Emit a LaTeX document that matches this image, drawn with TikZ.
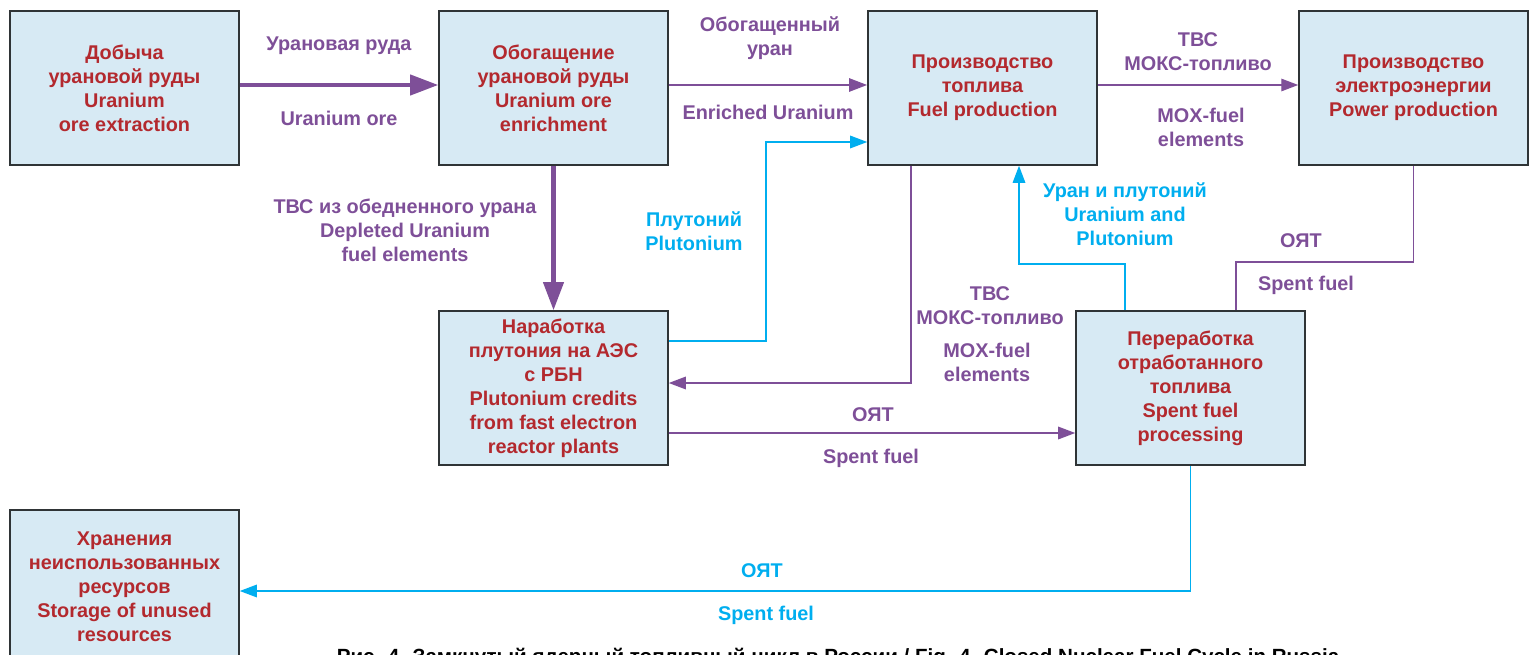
\documentclass[tikz,border=0pt]{standalone}
\usepackage{fontspec}
\setmainfont{Liberation Sans}
\usepackage{tikz}
\usetikzlibrary{arrows.meta, positioning, calc}
\usepackage{xcolor}
\definecolor{cBox}{HTML}{D7EAF4}
\definecolor{cBorder}{HTML}{2F3436}
\definecolor{cText}{HTML}{B3292E}
\definecolor{cPurple}{HTML}{7E4F98}
\definecolor{cCyan}{HTML}{00AEEF}

\begin{document}
\begin{tikzpicture}[
  x=0.02cm, y=-0.02cm,
  stage/.style={draw=cBorder, fill=cBox, line width=0.9pt,
    minimum width=4.58cm, minimum height=3.08cm, inner sep=2pt,
    align=center, text=cText,
    font=\fontsize{11.3}{13.7}\selectfont\bfseries},
  lab/.style={align=center, text=#1, inner sep=0pt,
    font=\fontsize{11.3}{13.7}\selectfont\bfseries},
  heavy/.style={draw=cPurple, line width=2.3pt,
    -{Triangle[length=0.56cm, width=0.4cm]}},
  medium/.style={draw=cPurple, line width=1.4pt,
    -{Triangle[length=0.36cm, width=0.26cm]}},
  flow/.style={draw=#1, line width=0.85pt,
    -{Triangle[length=0.34cm, width=0.25cm]}},
  plain/.style={draw=#1, line width=0.85pt}
]
  \useasboundingbox (0,0) rectangle (1538,655);

  % stages of the cycle
  \node[stage] (ext)   at (124.5,88)  {Добыча\\урановой руды\\Uranium\\ore extraction};
  \node[stage] (enr)   at (553.5,88)  {Обогащение\\урановой руды\\Uranium ore\\enrichment};
  \node[stage] (fuel)  at (982.5,88)  {Производство\\топлива\\Fuel production};
  \node[stage] (pow)   at (1413.5,88) {Производство\\электроэнергии\\Power production};
  \node[stage] (pu)    at (553.5,388) {Наработка\\плутония на АЭС\\с РБН\\Plutonium credits\\from fast electron\\reactor plants};
  \node[stage] (proc)  at (1190.5,388) {Переработка\\отработанного\\топлива\\Spent fuel\\processing};
  \node[stage] (store) at (124.5,587) {Хранения\\неиспользованных\\ресурсов\\Storage of unused\\resources};

  % flows
  \draw[heavy] ($(ext.east)+(0,-3)$) -- ($(enr.west)+(0,-3)$);
  \draw[medium] ($(enr.east)+(0,-3)$) -- ($(fuel.west)+(0,-3)$);
  \draw[flow=cPurple] ($(fuel.east)+(0,-3)$) -- ($(pow.west)+(0,-3)$);
  \draw[heavy] (enr.south) -- (pu.north);
  \draw[flow=cCyan] ($(pu.east)+(0,-47)$) -| ($(fuel.west)+(-101,54)$) -- ($(fuel.west)+(0,54)$);
  \draw[flow=cPurple] ($(fuel.south)+(-71.5,0)$) |- ($(pu.east)+(0,-5)$);
  \draw[flow=cCyan] ($(proc.north)+(-65.5,0)$) |- ($(fuel.south)+(36.5,98)$) -- ($(fuel.south)+(36.5,0)$);
  \draw[plain=cPurple] (pow.south) |- ($(proc.north)+(45.5,-48)$) -- ($(proc.north)+(45.5,0)$);
  \draw[flow=cPurple] ($(pu.east)+(0,45)$) -- ($(proc.west)+(0,45)$);
  \draw[flow=cCyan] (proc.south) |- ($(store.east)+(0,4)$);

  % labels
  \node[lab=cPurple] (l1a) at (339,46)  {Урановая руда};
  \node[lab=cPurple] (l1b) at (339,118) {Uranium ore};
  \node[lab=cPurple] (l2a) at (770,38)  {Обогащенный\\уран};
  \node[lab=cPurple] (l2b) at (768,112) {Enriched Uranium};
  \node[lab=cPurple] (l3a) at (1198,52) {ТВС\\МОКС-топливо};
  \node[lab=cPurple] (l3b) at (1201,127) {MOX-fuel\\elements};
  \node[lab=cPurple] (l4)  at (405,230) {ТВС из обедненного урана\\Depleted Uranium\\fuel elements};
  \node[lab=cCyan]   (l5)  at (694,231) {Плутоний\\Plutonium};
  \node[lab=cCyan]   (l6)  at (1125,214) {Уран и плутоний\\Uranium and\\Plutonium};
  \node[lab=cPurple] (l7a) at (1301,241) {ОЯТ};
  \node[lab=cPurple] (l7b) at (1306,285) {Spent fuel};
  \node[lab=cPurple] (l8a) at (990,306) {ТВС\\МОКС-топливо};
  \node[lab=cPurple] (l8b) at (987,362) {MOX-fuel\\elements};
  \node[lab=cPurple] (l9a) at (873,415) {ОЯТ};
  \node[lab=cPurple] (l9b) at (871,458) {Spent fuel};
  \node[lab=cCyan]   (l10a) at (762,571) {ОЯТ};
  \node[lab=cCyan]   (l10b) at (766,615) {Spent fuel};

  % caption
  \node[lab=black, font=\fontsize{11.7}{14}\selectfont\bfseries] (cap) at (838,658) {Рис. 4. Замкнутый ядерный топливный цикл в России / Fig. 4. Closed Nuclear Fuel Cycle in Russia};
\end{tikzpicture}
\end{document}
